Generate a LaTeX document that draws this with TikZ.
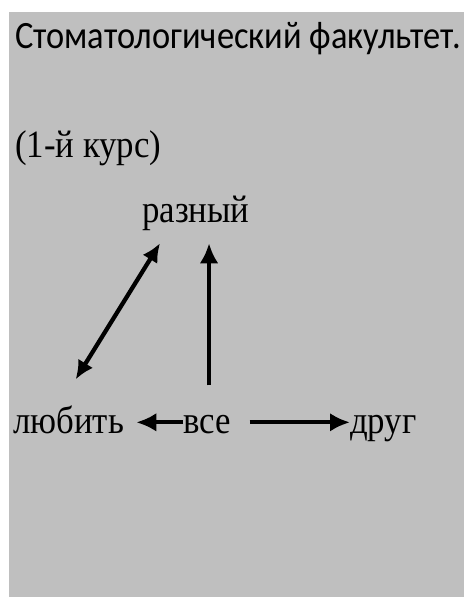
\documentclass[tikz,border=0pt]{standalone}
\usepackage{fontspec}
\setmainfont{Liberation Serif}
\newfontfamily\titlefont[FakeStretch=0.89]{Carlito}
\newfontfamily\wordfont[FakeStretch=0.9]{Liberation Serif}
\usepackage{xcolor}
\usetikzlibrary{positioning, calc, arrows.meta}

\definecolor{slidegray}{RGB}{191,191,191}

\tikzset{
  word/.style={anchor=base west, inner sep=0pt, text height=22pt, text depth=6pt,
    font=\wordfont\fontsize{29}{31}\selectfont},
  arr/.style={line width=3.2pt, -{Latex[length=15pt,width=14pt]}},
  dblarr/.style={line width=3.2pt, {Latex[length=14pt,width=13pt]}-{Latex[length=14pt,width=13pt]}}
}

\begin{document}
\begin{tikzpicture}[x=0.75pt,y=0.75pt,yscale=-1,xscale=1]
\useasboundingbox (0,0) rectangle (464,597);
%background
\fill[slidegray] (9,12) rectangle (464,597);

% Text Node
\node[anchor=base west, inner sep=0pt, font=\titlefont\fontsize{29}{31}\selectfont] (title) at (15,48) {Стоматологический факультет.};
% Text Node
\node[anchor=base west, inner sep=0pt, font=\wordfont\fontsize{29}{31}\selectfont] (course) at (15,157) {(1-й курс)};
% Text Node
\node[word] (raz) at (142,222) {разный};
% Text Node
\node[word] (lyub) at (13,433) {любить};
% Text Node
\node[word] (vse) at (183,433) {все};
% Text Node
\node[word] (drug) at (350,433) {друг};

%Arrows
\draw[dblarr] ($(lyub.north)+(7,-24)$) -- ($(raz.south west)+(18,13)$);
\draw[arr] ($(vse.north)+(2,-18)$) -- ($(vse.north |- raz.south)+(2,13)$);
\draw[arr, shorten >=9] (vse.west) -- (lyub.east);
\draw[arr, shorten <=14] (vse.east) -- (drug.west);

\end{tikzpicture}
\end{document}
